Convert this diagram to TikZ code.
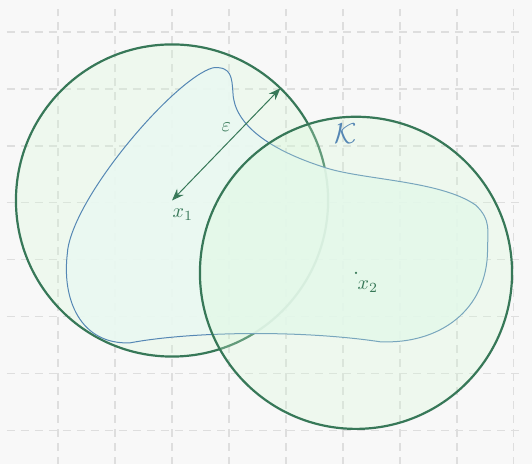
\documentclass[tikz,border=0pt]{standalone}
\usepackage{tikz}
\usetikzlibrary{arrows.meta}
\definecolor{bgcol}{RGB}{248,248,248}
\definecolor{gridcol}{RGB}{222,222,222}
\definecolor{ballcol}{RGB}{55,120,88}
\definecolor{ballfill}{RGB}{214,248,214}
\definecolor{setcol}{RGB}{85,135,180}
\definecolor{setfill}{RGB}{234,248,242}

\begin{document}
\begin{tikzpicture}[
    ball/.style={draw=ballcol, line width=1.1pt, fill=ballfill, fill opacity=0.28},
    setK/.style={draw=setcol, line width=0.5pt, fill=setfill, fill opacity=0.9},
    lbl/.style={text=ballcol}]
                  \fill[bgcol] (-0.02,-0.58) rectangle (9.32,7.56);
                  \useasboundingbox (-0.02,-0.58) rectangle (9.32,7.56);
                  \draw[gridcol, line width=0.7pt, dash pattern=on 4pt off 3pt] (0.1,-0.6) grid (9.2,7.4);
                  \coordinate (x1) at (3.0,4.04);
                  \coordinate (x2) at (6.23,2.77);
                  \draw[ball] (x1) circle (2.74);
                  % the set K
                  \draw[setK] (3.72,6.37)
                    .. controls (4.05,6.40) and (4.05,6.19) .. (4.07,5.93)
                    .. controls (4.09,5.37) and (4.72,4.93) .. (5.65,4.63)
                    .. controls (6.30,4.40) and (7.70,4.40) .. (8.33,3.96)
                    .. controls (8.61,3.70) and (8.54,3.49) .. (8.54,3.18)
                    .. controls (8.54,2.12) and (7.70,1.51) .. (6.65,1.56)
                    .. controls (5.25,1.77) and (3.32,1.74) .. (2.26,1.54)
                    .. controls (1.39,1.51) and (1.07,2.30) .. (1.16,3.09)
                    .. controls (1.21,4.05) and (3.05,6.19) .. (3.72,6.37) -- cycle;
                  \draw[ball] (x2) circle (2.74);
                  \path (x1) ++(46:2.74) coordinate (r1);
                  \draw[ballcol, line width=0.5pt, {Stealth[length=6pt,width=4.5pt]}-{Stealth[length=6pt,width=4.5pt]}]
                    (x1) -- (r1) node[midway, above=3pt, lbl] {$\varepsilon$};
                  \fill[ballcol] (x2) circle (0.6pt);
                  \node[lbl] (lx1) at (3.19,3.79) {$x_1$};
                  \node[lbl] (lx2) at (6.44,2.53) {$x_2$};
                  \node[text=setcol] (lK) at (6.05,5.21) {\Large$\mathcal{K}$};
              \end{tikzpicture}
\end{document}
